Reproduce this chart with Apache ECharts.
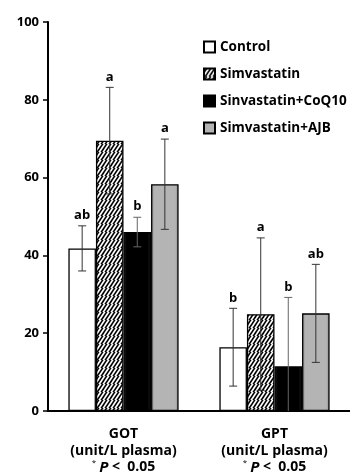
<!DOCTYPE html>
<html>
<head>
<meta charset="utf-8">
<script src="https://cdn.jsdelivr.net/npm/echarts@6/dist/echarts.min.js"></script>
<style>
  html, body { margin: 0; padding: 0; background: #fff; }
  #main { width: 350px; height: 476px; }
</style>
</head>
<body>
<div id="main"></div>
<script>
// data
var categories = ['GOT', 'GPT'];
var seriesNames = ['Control', 'Simvastatin', 'Sinvastatin+CoQ10', 'Simvastatin+AJB'];

var controlMean = [41.8, 16.4];
var controlErr = [5.8, 10.0];
var simvaMean = [69.5, 24.9];
var simvaErr = [13.7, 19.6];
var coq10Mean = [46.0, 11.5];
var coq10Err = [3.8, 17.7];
var ajbMean = [58.3, 25.1];
var ajbErr = [11.6, 12.6];

var controlSig = ['ab', 'b'];
var simvaSig = ['a', 'a'];
var coq10Sig = ['b', 'b'];
var ajbSig = ['a', 'ab'];

var yMin = 0, yMax = 100, yStep = 20;

var means = [controlMean, simvaMean, coq10Mean, ajbMean];
var errs = [controlErr, simvaErr, coq10Err, ajbErr];
var sigs = [controlSig, simvaSig, coq10Sig, ajbSig];

var FONT = '"Open Sans"';
var GAP = 0.27;

// hatch pattern for Simvastatin
function makeHatch() {
    var c = document.createElement('canvas');
    c.width = 8;
    c.height = 8;
    var ctx = c.getContext('2d');
    ctx.fillStyle = '#fff';
    ctx.fillRect(0, 0, 8, 8);
    ctx.strokeStyle = '#000';
    ctx.lineWidth = 1.6;
    for (var k = -8; k <= 16; k += 4) {
        ctx.beginPath();
        ctx.moveTo(k - 8, 8 + 8);
        ctx.lineTo(k + 8, 0 - 8);
        ctx.stroke();
    }
    return c;
}

var fills = [
    '#ffffff',
    { image: makeHatch(), repeat: 'repeat' },
    {
        type: 'linear', x: 0, y: 0, x2: 1, y2: 0,
        colorStops: [
            { offset: 0, color: '#222' },
            { offset: 0.12, color: '#000' },
            { offset: 0.88, color: '#000' },
            { offset: 1, color: '#222' }
        ]
    },
    {
        type: 'linear', x: 0, y: 0, x2: 1, y2: 0,
        colorStops: [
            { offset: 0, color: '#8c8c8c' },
            { offset: 0.12, color: '#b4b4b4' },
            { offset: 0.88, color: '#b4b4b4' },
            { offset: 1, color: '#8c8c8c' }
        ]
    }
];

var series = seriesNames.map(function(name, i) {
    return {
        name: name,
        type: 'bar',
        barGap: 0,
        barCategoryGap: (GAP * 100) + '%',
        itemStyle: {
            color: fills[i],
            borderColor: '#000',
            borderWidth: 1.3
        },
        data: means[i]
    };
});

// error bars + significance letters
var errData = [];
var errLetters = [];
for (var s = 0; s < seriesNames.length; s++) {
    for (var c = 0; c < categories.length; c++) {
        errData.push([c, s, means[s][c], errs[s][c]]);
        errLetters.push(sigs[s][c]);
    }
}

series.push({
    type: 'custom',
    z: 5,
    silent: true,
    data: errData,
    renderItem: function(params, api) {
        var cat = api.value(0);
        var s = api.value(1);
        var mean = api.value(2);
        var err = api.value(3);
        var band = api.size([1, 0])[0];
        var bw = band * (1 - GAP) / 4;
        var cx = api.coord([cat, 0])[0] + (s - 1.5) * bw;
        var top = api.coord([cat, mean + err])[1];
        var low = Math.max(0, mean - err);
        var bot = api.coord([cat, low])[1];
        var lineStyle = { stroke: s === 2 ? '#666' : '#333', lineWidth: 1 };
        var kids = [
            { type: 'line', shape: { x1: cx, y1: top, x2: cx, y2: bot }, style: lineStyle },
            { type: 'line', shape: { x1: cx - 4, y1: top, x2: cx + 4, y2: top }, style: lineStyle },
            {
                type: 'text',
                style: {
                    x: cx, y: top - 4,
                    text: errLetters[params.dataIndex],
                    align: 'center', verticalAlign: 'bottom',
                    font: 'bold 13px ' + FONT,
                    fill: '#000'
                }
            }
        ];
        if (low > 0) {
            kids.push({ type: 'line', shape: { x1: cx - 4, y1: bot, x2: cx + 4, y2: bot }, style: lineStyle });
        }
        return { type: 'group', children: kids };
    }
});

var myChart = echarts.init(document.getElementById('main'));
var option = {
    animation: false,
    textStyle: { fontFamily: FONT },
    legend: {
        data: seriesNames,
        orient: 'vertical',
        left: 203,
        top: 39,
        padding: 0,
        icon: 'rect',
        itemWidth: 11,
        itemHeight: 11,
        itemGap: 11,
        textStyle: {
            color: '#000',
            fontWeight: 'bold',
            fontSize: 13.5,
            fontFamily: FONT,
            lineHeight: 16
        }
    },
    grid: {
        left: 48,
        right: 0,
        top: 22,
        bottom: 65
    },
    xAxis: {
        type: 'category',
        data: categories,
        axisLine: { lineStyle: { color: '#000', width: 2 } },
        axisTick: { show: false },
        axisLabel: {
            margin: 15,
            interval: 0,
            formatter: function(v) {
                return '{n|' + v + '}\n{n|(unit/L plasma)}\n{s|*} {p|P}{n| <  0.05}';
            },
            rich: {
                n: { fontFamily: FONT, fontWeight: 'bold', fontSize: 14, color: '#000', lineHeight: 16.5 },
                p: { fontFamily: FONT, fontWeight: 'bold', fontStyle: 'italic', fontSize: 15, color: '#000', lineHeight: 16.5 },
                s: { fontFamily: FONT, fontSize: 8, color: '#000', lineHeight: 16.5, verticalAlign: 'top' }
            }
        }
    },
    yAxis: {
        type: 'value',
        min: yMin,
        max: yMax,
        interval: yStep,
        axisLine: { show: true, lineStyle: { color: '#000', width: 2 } },
        axisTick: { show: true, length: 5, lineStyle: { color: '#000', width: 1.5 } },
        splitLine: { show: false },
        axisLabel: {
            color: '#000',
            fontWeight: 'bold',
            fontSize: 13,
            fontFamily: FONT,
            margin: 9
        }
    },
    series: series
};
myChart.setOption(option);
</script>
</body>
</html>
